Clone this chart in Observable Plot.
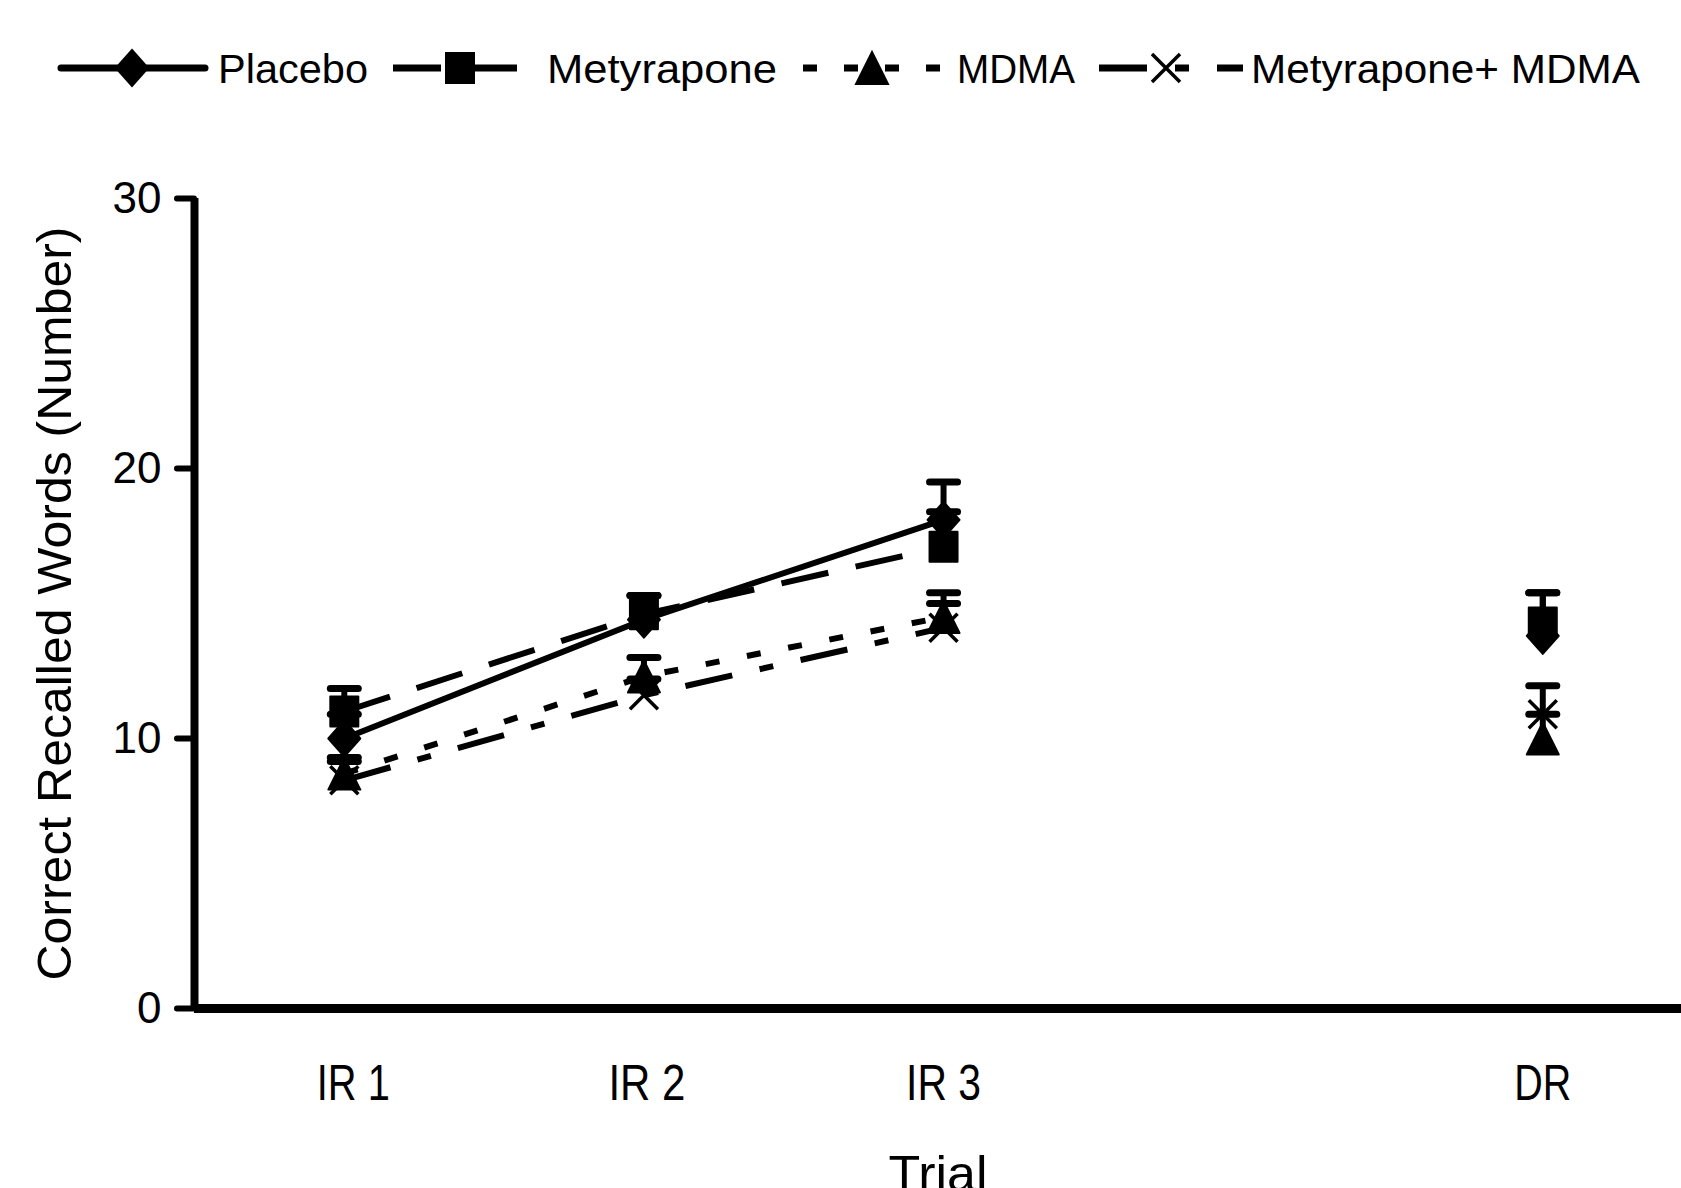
<!DOCTYPE html>
<html><head><meta charset="utf-8">
<script src="https://cdn.jsdelivr.net/npm/d3@7"></script>
<script src="https://cdn.jsdelivr.net/npm/@observablehq/plot@0.6"></script>
<style>
body{margin:0;background:#fff;width:1681px;height:1188px;overflow:hidden;}
#legend{display:block;width:1681px;height:130px;}
#chart svg{display:block;}
</style></head><body>
<svg id="legend" width="1681" height="130"></svg>
<div id="chart"></div>
<script>
// ---- data ----
const trials = ["IR 1", "IR 2", "IR 3", "DR"];
const trialPos = [1, 2, 3, 5];
const groups = ["Placebo", "Metyrapone", "MDMA", "Metyrapone+ MDMA"];
const placebo       = [10.0, 14.4, 18.1, 13.8];
const placeboSE     = [0.9, 0.9, 1.4, 1.6];
const metyrapone    = [11.0, 14.6, 17.1, 14.3];
const metyraponeSE  = [0.85, 0.7, 1.3, 1.1];
const mdma          = [8.7, 12.3, 14.5, 10.0];
const mdmaSE        = [0.6, 0.7, 0.9, 0.9];
const metMdma       = [8.45, 11.6, 14.1, 10.9];
const metMdmaSE     = [0.7, 0.6, 0.9, 1.05];
const yTicks = [0, 10, 20, 30];
const yLabel = "Correct Recalled Words (Number)";
const xLabel = "Trial";

// ---- symbols ----
const diamond = {draw(c){c.moveTo(0,-18);c.lineTo(16,0);c.lineTo(0,18);c.lineTo(-16,0);c.closePath();}};
const square = {draw(c){c.moveTo(-14,-15);c.lineTo(14,-15);c.lineTo(14,15);c.lineTo(-14,15);c.closePath();}};
const triangle = {draw(c){c.moveTo(0,-16);c.lineTo(16,16);c.lineTo(-16,16);c.closePath();}};
const cross = {draw(c){c.moveTo(-14,-14);c.lineTo(14,14);c.moveTo(-14,14);c.lineTo(14,-14);}};
const cap = {draw(c){c.moveTo(-14,0);c.lineTo(14,0);}};

const sans = "'Liberation Sans',Arial,sans-serif";

const series = [
  {name: groups[0], mean: placebo, se: placeboSE, sym: diamond, dash: null, filled: true},
  {name: groups[1], mean: metyrapone, se: metyraponeSE, sym: square, dash: "48,28", filled: true},
  {name: groups[2], mean: mdma, se: mdmaSE, sym: triangle, dash: "14,28", filled: true},
  {name: groups[3], mean: metMdma, se: metMdmaSE, sym: cross, dash: "48,28,14,28", filled: false}
];
const rows = series.flatMap(s => trialPos.map((x, i) => ({group: s.name, x, trial: trials[i], mean: s.mean[i], top: s.mean[i] + s.se[i]})));

const marks = [];
for (const s of series) {
  marks.push(Plot.line(rows.filter(d => d.group === s.name && d.x <= 3), {
    x: "x", y: "mean", stroke: "black", strokeWidth: 6,
    strokeDasharray: s.dash ?? undefined, strokeLinecap: "butt"
  }));
}
for (const s of series) {
  const d = rows.filter(r => r.group === s.name);
  marks.push(Plot.ruleX(d, {x: "x", y1: "mean", y2: "top", stroke: "black", strokeWidth: 6}));
  marks.push(Plot.dot(d, {x: "x", y: "top", symbol: cap, r: 10, stroke: "black", fill: "none", strokeWidth: 7, strokeLinecap: "round"}));
  if (s.filled) {
    marks.push(Plot.dot(d, {x: "x", y: "mean", symbol: s.sym, r: 10, fill: "black", stroke: "black", strokeWidth: 2, strokeLinejoin: "round"}));
  } else {
    marks.push(Plot.dot(d, {x: "x", y: "mean", symbol: s.sym, r: 10, fill: "none", stroke: "black", strokeWidth: 3.5}));
  }
}

const chart = Plot.plot({
  width: 1681,
  height: 1058,
  marginTop: 68,
  marginBottom: 180,
  marginLeft: 194,
  marginRight: 0,
  style: {background: "white", color: "black", overflow: "visible"},
  x: {type: "linear", domain: [0.5, 5.463]},
  y: {domain: [0, 30]},
  marks: [
    Plot.axisY({ticks: yTicks, tickSize: 17, tickPadding: 16, strokeWidth: 6, strokeLinecap: "round",
      fontSize: 44, fontFamily: sans, fill: "black", label: null, tickFormat: d => String(d)}),
    Plot.axisY({ticks: [], label: yLabel, labelAnchor: "center", labelArrow: "none", labelOffset: 158,
      fontSize: 48, fontFamily: sans, fill: "black"}),
    Plot.axisX({ticks: trialPos, tickSize: 0, tickPadding: 56, fontSize: 50, fontFamily: sans, fill: "black",
      tickFormat: v => trials[trialPos.indexOf(v)], label: xLabel, labelAnchor: "center", labelArrow: "none", labelOffset: 182}),
    ...marks,
    Plot.ruleX([0.5], {stroke: "black", strokeWidth: 8}),
    Plot.ruleY([0], {stroke: "black", strokeWidth: 9})
  ]
});
document.getElementById("chart").appendChild(chart);

// condensed look of the original typeface: fix rendered text widths
const xTickWidths = {"IR 1": 73, "IR 2": 77, "IR 3": 75, "DR": 57};
const xTickShift = {"IR 1": 9, "IR 2": 3, "IR 3": 0, "DR": 0};
chart.querySelectorAll("g[aria-label='x-axis tick label'] text").forEach(t => {
  const key = t.textContent.trim();
  const w = xTickWidths[key];
  if (w) { t.setAttribute("textLength", w); t.setAttribute("lengthAdjust", "spacingAndGlyphs"); }
  if (xTickShift[key]) t.setAttribute("dx", xTickShift[key]);
});
chart.querySelectorAll("g[aria-label='x-axis label'] text").forEach(t => {
  t.setAttribute("textLength", 99); t.setAttribute("lengthAdjust", "spacingAndGlyphs");
});
chart.querySelectorAll("g[aria-label='y-axis label'] text").forEach(t => {
  t.setAttribute("textLength", 754); t.setAttribute("lengthAdjust", "spacingAndGlyphs");
});

// ---- legend ----
const lg = d3.select("#legend");
const legendItems = [
  {s: series[0], x0: 61, x1: 205, sx: 132, tx: 218, tw: 150},
  {s: series[1], x0: 393, x1: 520, sx: 460, tx: 547, tw: 230},
  {s: series[2], x0: 803, x1: 942, sx: 872, tx: 957, tw: 118},
  {s: series[3], x0: 1099, x1: 1243, sx: 1166, tx: 1251, tw: 389}
];
const cy = 68;
for (const it of legendItems) {
  const ln = lg.append("line").attr("x1", it.x0).attr("x2", it.x1).attr("y1", cy).attr("y2", cy)
    .attr("stroke", "black").attr("stroke-width", 7)
    .attr("stroke-linecap", it.s.dash ? "butt" : "round");
  if (it.s.dash) ln.attr("stroke-dasharray", it.s.name === "MDMA" ? "14,27" : it.s.dash);
  const p = d3.path(); it.s.sym.draw(p);
  lg.append("path").attr("d", p.toString()).attr("transform", `translate(${it.sx},${cy})`)
    .attr("fill", it.s.filled ? "black" : "none").attr("stroke", "black")
    .attr("stroke-width", it.s.filled ? 2 : 3.5);
  lg.append("text").attr("x", it.tx).attr("y", cy + 15).text(it.s.name)
    .attr("font-family", sans).attr("font-size", 41)
    .attr("textLength", it.tw).attr("lengthAdjust", "spacingAndGlyphs").attr("fill", "black");
}
</script>
</body></html>
